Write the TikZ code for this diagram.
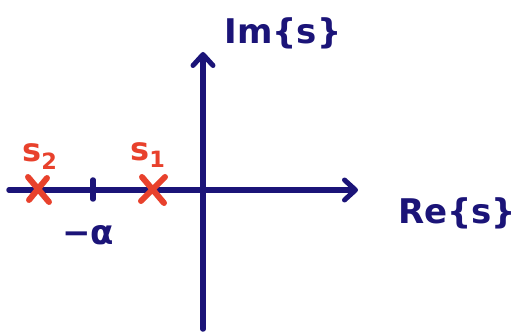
\documentclass[tikz,border=0pt]{standalone}
\usepackage{fontspec}
\setmainfont{DejaVu Sans}
\usetikzlibrary{arrows.meta}
\definecolor{navy}{HTML}{1B1478}
\definecolor{pole}{HTML}{E8412C}
\begin{document}
\begin{tikzpicture}[x=1pt,y=1pt,
  axis/.style={draw=navy,line width=5.5pt,line cap=round,-{Straight Barb[length=11pt,width=20pt,line width=5pt,round]}},
  mark line/.style={draw=navy,line width=5.5pt,line cap=round},
  cross/.style={draw=pole,line width=6pt,line cap=round},
  navylabel/.style={text=navy,inner sep=0pt,font=\bfseries\fontsize{34}{34}\selectfont},
  redlabel/.style={text=pole,inner sep=0pt,font=\bfseries\fontsize{32}{32}\selectfont}]
\useasboundingbox (0,0) rectangle (522,335);
% axes
\coordinate (hstart) at (9,145);
\coordinate (hend) at (358,145);
\coordinate (vstart) at (203,6);
\coordinate (vend) at (203,283);
\draw[axis] (hstart) -- (hend);
\draw[axis] (vstart) -- (vend);
% tick
\coordinate (ta) at (93,155);
\coordinate (tb) at (93,136);
\draw[mark line] (ta) -- (tb);
% crosses
\coordinate (c2a) at (28,158);
\coordinate (c2b) at (49,133);
\coordinate (c2c) at (29,135);
\coordinate (c2d) at (47,157);
\draw[cross] (c2a) -- (c2b);
\draw[cross] (c2c) -- (c2d);
\coordinate (c1a) at (142,158);
\coordinate (c1b) at (164,132);
\coordinate (c1c) at (141,134);
\coordinate (c1d) at (165,158);
\draw[cross] (c1a) -- (c1b);
\draw[cross] (c1c) -- (c1d);
% labels
\node[redlabel] (s2) at (40,178) {s\textsubscript{2}};
\node[redlabel] (s1) at (148,180) {s\textsubscript{1}};
\node[navylabel] (alpha) at (88,100) {−α};
\node[navylabel] (im) at (283,302) {Im\{s\}};
\node[navylabel] (re) at (457,122) {Re\{s\}};
\end{tikzpicture}
\end{document}
